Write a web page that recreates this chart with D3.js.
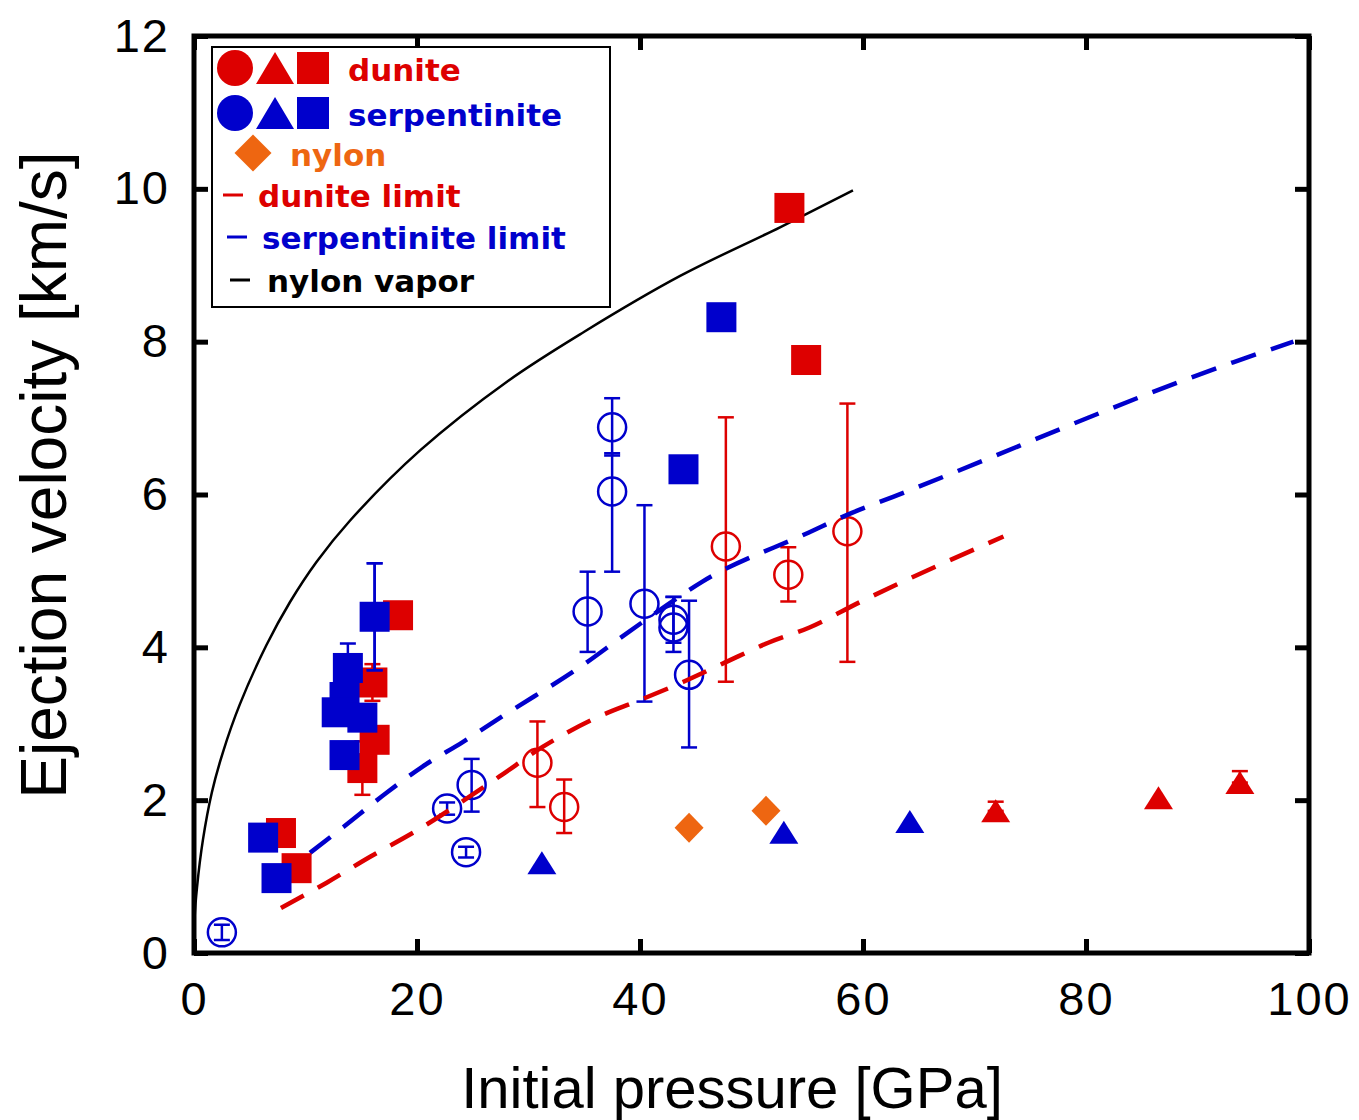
<!DOCTYPE html>
<html>
<head>
<meta charset="utf-8">
<script src="https://cdn.jsdelivr.net/npm/d3@7"></script>
<style>
    body { margin: 0; background: #fff; }
    svg { display: block; }
</style>
</head>
<body>
<script>
// values: [pressure GPa, velocity km/s, err up, err down]
var duniteSquares = [[53.4, 9.75], [54.9, 7.76], [18.3, 4.42], [16.0, 3.54, 0.24, 0.24],
                     [16.2, 2.79], [15.1, 2.42, 0.35, 0.35], [7.8, 1.57], [9.2, 1.11]];
var serpSquares = [[47.3, 8.32], [43.9, 6.33], [16.2, 4.40, 0.70, 0.70], [13.8, 3.73, 0.32, 0.32],
                   [13.5, 3.35], [12.8, 3.15], [15.1, 3.08], [13.5, 2.59], [6.2, 1.51], [7.4, 0.98]];
var duniteCircles = [[30.8, 2.49, 0.54, 0.58], [33.2, 1.91, 0.36, 0.34], [47.7, 5.32, 1.69, 1.77],
                     [53.3, 4.95, 0.36, 0.35], [58.6, 5.52, 1.67, 1.71]];
var serpCircles = [[2.5, 0.27, 0.10, 0.10], [37.5, 6.88, 0.38, 0.37],
                   [37.5, 6.04, 0.50, 1.05], [35.3, 4.47, 0.52, 0.53], [40.4, 4.57, 1.29, 1.28],
                   [43.0, 4.36, 0.30, 0.30], [43.0, 4.26, 0.40, 0.32], [44.4, 3.64, 0.97, 0.95],
                   [24.9, 2.20, 0.34, 0.35], [22.7, 1.89, 0.08, 0.08], [24.4, 1.32, 0.07, 0.07]];
var duniteTriangles = [[71.9, 1.86, 0.12, 0], [86.5, 2.03], [93.8, 2.23, 0.15, 0]];
var serpTriangles = [[31.2, 1.18], [52.9, 1.58], [64.2, 1.72]];
var nylonPoints = [[44.4, 1.64], [51.3, 1.86]];

var duniteLimit = [[7.8, 0.59], [11.9, 0.92], [15.8, 1.26], [19.6, 1.57], [27.4, 2.31], [31.3, 2.70],
                   [36.1, 3.08], [40.0, 3.31], [43.9, 3.55], [47.6, 3.80], [51.5, 4.06], [55.2, 4.26],
                   [59.7, 4.59], [72.6, 5.45]];
var serpLimit = [[10.4, 1.31], [13.4, 1.65], [17.3, 2.10], [20.5, 2.44], [24.1, 2.76], [27.9, 3.12],
                 [34.9, 3.77], [38.4, 4.14], [41.8, 4.49], [45.6, 4.86], [55.1, 5.50], [59.0, 5.76],
                 [62.7, 5.97], [93.2, 7.73], [98.6, 8.0]];
var nylonVapor = [[0, 0], [0.05, 0.45], [0.27, 0.86], [0.8, 1.48], [1.6, 2.10], [2.6, 2.63],
                  [4.1, 3.25], [6.5, 4.03], [8.6, 4.59], [11, 5.12], [14, 5.66], [20.3, 6.58],
                  [28.1, 7.48], [35, 8.13], [43.6, 8.86], [52.6, 9.50], [59.1, 9.98]];

var xTicks = [0, 20, 40, 60, 80, 100];
var yTicks = [0, 2, 4, 6, 8, 10, 12];

var red = "#dd0000",
    blue = "#0000cc",
    orange = "#ee6611";

var width = 1359,
    height = 1120;

var svg = d3.select("body").append("svg")
            .attr("width", width)
            .attr("height", height);

var x = d3.scaleLinear().domain([0, 100]).range([194, 1309]),
    y = d3.scaleLinear().domain([0, 12]).range([953, 36]);

var tickFont = "'Liberation Sans', Arial, sans-serif";

// axes: ticks pointing inward, labels only on left and bottom
function styleAxis(g) {
    g.select(".domain").remove();
    g.selectAll(".tick line").attr("stroke", "#000").attr("stroke-width", 5);
    g.selectAll(".tick text")
     .attr("fill", "#000")
     .style("font-family", tickFont)
     .style("font-size", "47px")
     .style("letter-spacing", "2px");
}

svg.append("g")
   .attr("transform", "translate(0," + y(0) + ")")
   .call(d3.axisBottom(x).tickValues(xTicks).tickSize(-14).tickPadding(29))
   .call(styleAxis);

svg.append("g")
   .attr("transform", "translate(0," + y(12) + ")")
   .call(d3.axisTop(x).tickValues(xTicks).tickSize(-14).tickFormat(""))
   .call(styleAxis);

svg.append("g")
   .attr("transform", "translate(" + x(0) + ",0)")
   .call(d3.axisLeft(y).tickValues(yTicks).tickSize(-14).tickPadding(24))
   .call(styleAxis);

svg.append("g")
   .attr("transform", "translate(" + x(100) + ",0)")
   .call(d3.axisRight(y).tickValues(yTicks).tickSize(-14).tickFormat(""))
   .call(styleAxis);

svg.append("rect")
   .attr("x", x(0))
   .attr("y", y(12))
   .attr("width", x(100) - x(0))
   .attr("height", y(0) - y(12))
   .attr("fill", "none")
   .attr("stroke", "#000")
   .attr("stroke-width", 5);

// axis titles
svg.append("text")
   .attr("x", 732)
   .attr("y", 1108)
   .attr("text-anchor", "middle")
   .style("font-family", tickFont)
   .style("font-size", "58px")
   .text("Initial pressure [GPa]");

svg.append("text")
   .attr("transform", "translate(66,475) rotate(-90)")
   .attr("text-anchor", "middle")
   .style("font-family", tickFont)
   .style("font-size", "64px")
   .text("Ejection velocity [km/s]");

// curves
var line = d3.line()
             .x(function(d) {return x(d[0]); })
             .y(function(d) {return y(d[1]); })
             .curve(d3.curveMonotoneX);

var smoothLine = d3.line()
                   .x(function(d) {return x(d[0]); })
                   .y(function(d) {return y(d[1]); })
                   .curve(d3.curveCatmullRom.alpha(0.5));

svg.append("path")
   .attr("d", smoothLine(nylonVapor))
   .attr("fill", "none")
   .attr("stroke", "#000")
   .attr("stroke-width", 2.5);

// error bars + open circles
function drawOpenCircles(data, color) {
    var g = svg.append("g");
    data.forEach(function(d) {
        var cx = x(d[0]),
            cy = y(d[1]);
        if (d.length > 2) {
            var top = y(d[1] + d[2]),
                bot = y(d[1] - d[3]);
            g.append("line").attr("x1", cx).attr("x2", cx).attr("y1", top).attr("y2", bot)
             .attr("stroke", color).attr("stroke-width", 2.5);
            [top, bot].forEach(function(yy) {
                g.append("line").attr("x1", cx - 8).attr("x2", cx + 8).attr("y1", yy).attr("y2", yy)
                 .attr("stroke", color).attr("stroke-width", 2.5);
            });
        }
        g.append("circle").attr("cx", cx).attr("cy", cy).attr("r", 14)
         .attr("fill", "none").attr("stroke", color).attr("stroke-width", 2.5);
    });
}

drawOpenCircles(serpCircles, blue);
drawOpenCircles(duniteCircles, red);

svg.append("path")
   .attr("d", line(duniteLimit))
   .attr("fill", "none")
   .attr("stroke", red)
   .attr("stroke-width", 4.5)
   .attr("stroke-dasharray", "26,16");

svg.append("path")
   .attr("d", line(serpLimit))
   .attr("fill", "none")
   .attr("stroke", blue)
   .attr("stroke-width", 4.5)
   .attr("stroke-dasharray", "26,16");

function errorBars(g, data, color) {
    data.forEach(function(d) {
        if (d.length < 3) {
            return;
        }
        var cx = x(d[0]),
            top = y(d[1] + d[2]),
            bot = y(d[1] - d[3]);
        g.append("line").attr("x1", cx).attr("x2", cx).attr("y1", top).attr("y2", bot)
         .attr("stroke", color).attr("stroke-width", 2.5);
        [top, bot].forEach(function(yy) {
            g.append("line").attr("x1", cx - 8).attr("x2", cx + 8).attr("y1", yy).attr("y2", yy)
             .attr("stroke", color).attr("stroke-width", 2.5);
        });
    });
}

function triPath(cx, cy, w, h) {
    return "M" + cx + "," + (cy - h / 2) + "L" + (cx + w / 2) + "," + (cy + h / 2) +
           "L" + (cx - w / 2) + "," + (cy + h / 2) + "Z";
}

function diamondPath(cx, cy, w, h) {
    return "M" + cx + "," + (cy - h / 2) + "L" + (cx + w / 2) + "," + cy +
           "L" + cx + "," + (cy + h / 2) + "L" + (cx - w / 2) + "," + cy + "Z";
}

function drawSquares(data, color) {
    var g = svg.append("g");
    errorBars(g, data, color);
    g.selectAll("rect")
     .data(data)
     .enter()
     .append("rect")
     .attr("x", function(d) {return x(d[0]) - 15; })
     .attr("y", function(d) {return y(d[1]) - 15; })
     .attr("width", 30)
     .attr("height", 30)
     .attr("fill", color);
    errorBars(g, data.filter(function(d) {return d.length > 2 && d[2] > 0.5; }), color);
}

function drawTriangles(data, color) {
    var g = svg.append("g");
    errorBars(g, data, color);
    g.selectAll("path")
     .data(data)
     .enter()
     .append("path")
     .attr("d", function(d) {return triPath(x(d[0]), y(d[1]), 29, 23); })
     .attr("fill", color);
}

drawSquares(duniteSquares, red);
drawSquares(serpSquares, blue);
drawTriangles(duniteTriangles, red);
drawTriangles(serpTriangles, blue);

svg.append("g")
   .selectAll("path")
   .data(nylonPoints)
   .enter()
   .append("path")
   .attr("d", function(d) {return diamondPath(x(d[0]), y(d[1]), 29, 30); })
   .attr("fill", orange);

// legend
var legend = svg.append("g");
legend.append("rect")
      .attr("x", 212)
      .attr("y", 47)
      .attr("width", 398)
      .attr("height", 260)
      .attr("fill", "#fff")
      .attr("stroke", "#000")
      .attr("stroke-width", 2);

var legendFont = "'DejaVu Sans', sans-serif";

[[red, 68, "dunite"], [blue, 113, "serpentinite"]].forEach(function(r) {
    legend.append("circle").attr("cx", 235).attr("cy", r[1]).attr("r", 18).attr("fill", r[0]);
    legend.append("path").attr("d", triPath(275, r[1], 38, 32)).attr("fill", r[0]);
    legend.append("rect").attr("x", 297).attr("y", r[1] - 16).attr("width", 32).attr("height", 32)
          .attr("fill", r[0]);
    legend.append("text").attr("x", 348).attr("y", r[1] + 13)
          .attr("fill", r[0])
          .style("font-family", legendFont).style("font-weight", "bold").style("font-size", "31px")
          .text(r[2]);
});

legend.append("path").attr("d", diamondPath(253, 153, 37, 37)).attr("fill", orange);
legend.append("text").attr("x", 290).attr("y", 166)
      .attr("fill", orange)
      .style("font-family", legendFont).style("font-weight", "bold").style("font-size", "31px")
      .text("nylon");

[[red, 223, 195, 258, "dunite limit"], [blue, 227, 237, 262, "serpentinite limit"],
 [ "#000", 230, 280, 267, "nylon vapor"]].forEach(function(r) {
    legend.append("line").attr("x1", r[1]).attr("x2", r[1] + 20).attr("y1", r[2]).attr("y2", r[2])
          .attr("stroke", r[0]).attr("stroke-width", 3);
    legend.append("text").attr("x", r[3]).attr("y", r[2] + 12)
          .attr("fill", r[0])
          .style("font-family", legendFont).style("font-weight", "bold").style("font-size", "31px")
          .text(r[4]);
});
</script>
</body>
</html>
